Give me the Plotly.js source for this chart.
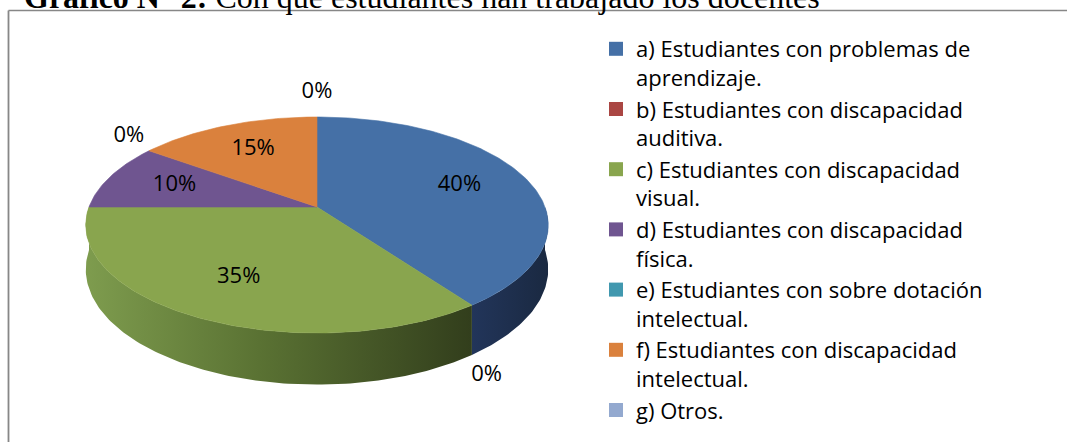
<!DOCTYPE html>
<html>
<head>
<meta charset="utf-8">
<script src="https://cdn.plot.ly/plotly-3.0.1.min.js"></script>
<style>html,body{margin:0;padding:0;background:#fff;}#chart{width:1067px;height:442px;}</style>
</head>
<body>
<div id="chart"></div>
<script>
// ---- data ----
const titleText = "<b>Gráfico N° 2:</b> Con qué estudiantes han trabajado los docentes";
const categories = [
  "a) Estudiantes con problemas de<br>aprendizaje.",
  "b) Estudiantes con discapacidad<br>auditiva.",
  "c) Estudiantes con discapacidad<br>visual.",
  "d) Estudiantes con discapacidad<br>física.",
  "e) Estudiantes con sobre dotación<br>intelectual.",
  "f) Estudiantes con discapacidad<br>intelectual.",
  "g) Otros."
];
const values = [40, 0, 35, 10, 0, 15, 0];

// ---- styles ----
const topColors = ["#4570a6", "#aa4643", "#89a54e", "#6f5590", "#4198af", "#da813d", "#93a9cf"];
const sideScales = [
  [[0, "#22355a"], [1, "#1a2941"]],
  [[0, "#6e2d2b"], [1, "#4a1e1d"]],
  [[0, "#7e9c4e"], [0.45, "#5a7233"], [1, "#323e1c"]],
  [[0, "#4a3a5e"], [1, "#33283f"]],
  [[0, "#2a6473"], [1, "#1c4450"]],
  [[0, "#8f5428"], [1, "#603819"]],
  [[0, "#606f88"], [1, "#414b5c"]]
];
const FONT = "'Open Sans', 'Noto Sans', sans-serif";

// ---- geometry of the 3-D pie (screen pixels) ----
const CX = 317, CY = 207, A = 228, B = 105, P = 0.1667, H = 43;
function proj(theta, r, down) {
  const X = r * Math.sin(theta), Z = -r * Math.cos(theta);
  const s = 1 / (1 - P * Z);
  return [CX + A * X * s, CY + B * Z * s + (down ? H * s : 0)];
}
function arc(t0, t1, r, down) {
  const pts = [];
  const n = Math.max(2, Math.ceil(Math.abs(t1 - t0) / (Math.PI / 180)));
  for (let i = 0; i <= n; i++) pts.push(proj(t0 + (t1 - t0) * i / n, r, down));
  return pts;
}

const total = values.reduce((a, b) => a + b, 0);
const sides = [], tops = [];
const lx = [], ly = [], lt = [];
let cum = 0;
values.forEach((v, i) => {
  const t0 = cum / total * 2 * Math.PI;
  cum += v;
  const t1 = cum / total * 2 * Math.PI;
  const mid = (t0 + t1) / 2;
  if (v > 0) {
    const pts = [[CX, CY]].concat(arc(t0, t1, 1, false));
    pts.push([CX, CY]);
    tops.push({
      type: "scatter", mode: "lines", fill: "toself",
      x: pts.map(p => p[0]), y: pts.map(p => p[1]),
      fillcolor: topColors[i], line: {color: topColors[i], width: 0.6},
      hoverinfo: "skip", showlegend: false
    });
    const a0 = Math.max(t0, Math.PI / 2), a1 = Math.min(t1, 3 * Math.PI / 2);
    if (a1 > a0) {
      const up = arc(a0, a1, 1, false);
      const dn = arc(a0, a1, 1, true).reverse();
      const wp = up.concat(dn); wp.push(up[0]);
      sides.push({
        type: "scatter", mode: "lines", fill: "toself",
        x: wp.map(p => p[0]), y: wp.map(p => p[1]),
        fillgradient: {type: "horizontal", colorscale: sideScales[i]},
        line: {width: 0, color: "rgba(0,0,0,0)"},
        hoverinfo: "skip", showlegend: false
      });
    }
    const lp = proj(mid, 0.68, false);
    lx.push(lp[0]); ly.push(lp[1]);
  } else {
    const Z = -Math.cos(mid);
    const edge = proj(mid, 1, Z > 0);
    lx.push(edge[0] + 25 * Math.sin(mid)); ly.push(edge[1] + 25 * Z);
  }
  lt.push(v + "%");
});

const legendTraces = categories.map((c, i) => ({
  type: "scatter", mode: "markers", x: [null], y: [null], name: c,
  marker: {symbol: "square", size: 14, color: topColors[i]},
  hoverinfo: "skip", showlegend: true
}));

const labelTrace = {
  type: "scatter", mode: "text", x: lx, y: ly, text: lt,
  textposition: "middle center",
  textfont: {family: FONT, size: 22, color: "#000"},
  hoverinfo: "skip", showlegend: false
};

const data = legendTraces.concat(sides, tops, [labelTrace]);

const layout = {
  width: 1067, height: 442,
  margin: {l: 0, r: 0, t: 0, b: 0},
  paper_bgcolor: "#fff", plot_bgcolor: "#fff",
  xaxis: {range: [0, 1067], visible: false, fixedrange: true},
  yaxis: {range: [442, 0], visible: false, fixedrange: true},
  showlegend: true,
  legend: {
    x: 596 / 1067, xanchor: "left", y: 1 - 28 / 442, yanchor: "top",
    font: {family: FONT, size: 22, color: "#000"},
    bgcolor: "rgba(0,0,0,0)", itemwidth: 30, tracegroupgap: 0, valign: "top",
    traceorder: "normal", itemclick: false, itemdoubleclick: false
  },
  shapes: [
    {type: "line", xref: "paper", yref: "paper", x0: 8.5 / 1067, x1: 1.05, y0: 1 - 10.5 / 442, y1: 1 - 10.5 / 442,
     line: {color: "#878787", width: 1.5}},
    {type: "line", xref: "paper", yref: "paper", x0: 8.5 / 1067, x1: 8.5 / 1067, y0: 1 - 10.5 / 442, y1: -0.05,
     line: {color: "#878787", width: 1.8}}
  ],
  annotations: [{
    xref: "paper", yref: "paper", x: 22 / 1067, y: 1, xanchor: "left", yanchor: "bottom", yshift: -17,
    text: titleText, showarrow: false,
    font: {family: "'Liberation Serif', 'Times New Roman', serif", size: 32, color: "#000"}
  }]
};

Plotly.newPlot("chart", data, layout, {displayModeBar: false, staticPlot: true});
</script>
</body>
</html>
